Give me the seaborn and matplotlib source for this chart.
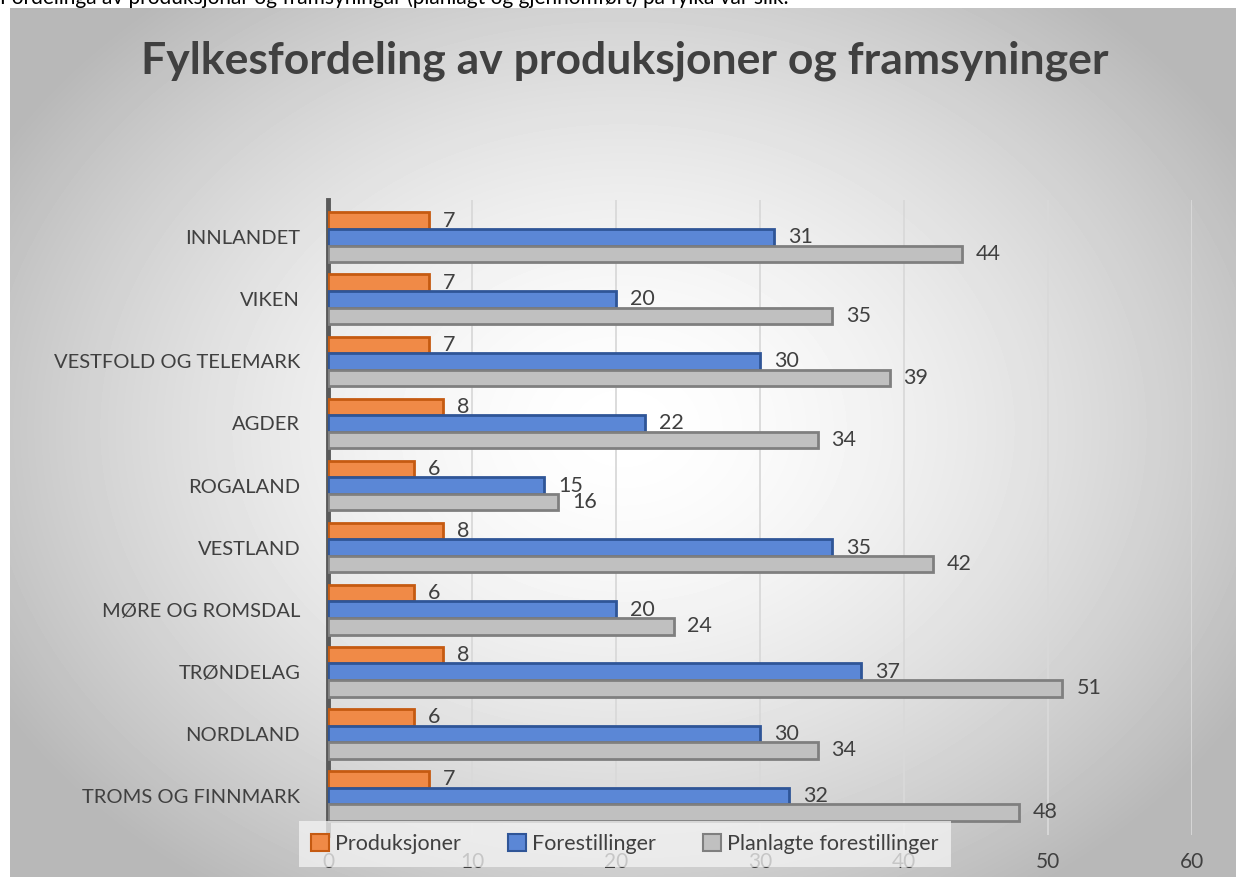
import numpy as np
import pandas as pd
import matplotlib
matplotlib.use("Agg")
import matplotlib.pyplot as plt
import seaborn as sb

# data
fylker = [
    "INNLANDET",
    "VIKEN",
    "VESTFOLD OG TELEMARK",
    "AGDER",
    "ROGALAND",
    "VESTLAND",
    "MØRE OG ROMSDAL",
    "TRØNDELAG",
    "NORDLAND",
    "TROMS OG FINNMARK",
]
produksjoner = [7, 7, 7, 8, 6, 8, 6, 8, 6, 7]
forestillinger = [31, 20, 30, 22, 15, 35, 20, 37, 30, 32]
planlagte = [44, 35, 39, 34, 16, 42, 24, 51, 34, 48]
serier = ["Produksjoner", "Forestillinger", "Planlagte forestillinger"]
x_ticks = [0, 10, 20, 30, 40, 50, 60]

df = pd.DataFrame({
    "fylke": fylker * 3,
    "serie": [serier[0]] * 10 + [serier[1]] * 10 + [serier[2]] * 10,
    "antall": produksjoner + forestillinger + planlagte,
})

sb.set_theme(style="white")
plt.rcParams["font.family"] = ["Lato", "DejaVu Sans"]

W, H = 1236, 877
fig = plt.figure(figsize=(W / 100, H / 100), dpi=100)

# radial grey background of the chart area
bg = fig.add_axes([10 / W, 0, 1 - 10 / W, 1 - 8 / H], zorder=-2)
yy, xx = np.mgrid[0:869, 0:1226]
r = np.sqrt(((xx - 613) / 720.0) ** 2 + ((yy - 420) / 560.0) ** 2)
shade = 1.0 - 0.28 * np.clip(r, 0, 1) ** 1.6
bg.imshow(shade, cmap="gray", vmin=0, vmax=1, aspect="auto")
bg.axis("off")

# cut-off sentence above the chart (only its lower part is visible in the reference)
fig.text(0.0, 1 - 4 / H, "Fordelinga av produksjonar og framsyningar (planlagt og gjennomført) på fylka var slik:",
         fontsize=15, color="black", va="baseline", ha="left")

ax = fig.add_axes([328 / W, 1 - 835 / H, 864 / W, 635 / H])
ax.set_facecolor("none")

palette = ["#F08A47", "#5B87D6", "#C0C0C0"]
edges = ["#C55A11", "#2F5597", "#7F7F7F"]
sb.barplot(data=df, x="antall", y="fylke", hue="serie", order=fylker, hue_order=serier,
           palette=palette, saturation=1, orient="h", width=0.8, ax=ax, zorder=3)

for cont, ec in zip(ax.containers, edges):
    for bar in cont:
        bar.set_edgecolor(ec)
        bar.set_linewidth(2)
    ax.bar_label(cont, padding=10, fontsize=15.5, color="#404040")

ax.set_xlim(0, 60)
ax.set_ylim(9.63, -0.6)
ax.set_xticks(x_ticks)
ax.set_xticklabels([str(t) for t in x_ticks])
ax.tick_params(axis="x", length=0, pad=12, labelsize=15, labelcolor="#404040")
ax.tick_params(axis="y", length=0, pad=20, labelsize=14.5, labelcolor="#404040")
ax.set_xlabel("")
ax.set_ylabel("")
ax.grid(axis="x", color="#D9D9D9", linewidth=1.3, zorder=0)
for s in ["top", "right", "bottom"]:
    ax.spines[s].set_visible(False)
ax.spines["left"].set_color("#595959")
ax.spines["left"].set_linewidth(3.5)

handles, labels = ax.get_legend_handles_labels()
ax.get_legend().remove()
for h, ec in zip(handles, edges):
    h.set_edgecolor(ec)
    h.set_linewidth(1.5)
leg = fig.legend(handles, labels, loc="center", bbox_to_anchor=(625 / W, 1 - 844 / H), ncol=3,
                 fontsize=15.5, frameon=True, fancybox=False, facecolor="#F4F4F4", framealpha=0.75,
                 edgecolor="none", handlelength=0.8, handleheight=0.8, handletextpad=0.3,
                 columnspacing=2.2, borderpad=0.6, borderaxespad=0)
for t in leg.get_texts():
    t.set_color("#404040")

fig.text(625 / W, 1 - 61 / H, "Fylkesfordeling av produksjoner og framsyninger",
         fontsize=32, fontweight="bold", color="#404040", ha="center", va="center")

fig.savefig("out.png", dpi=100)
